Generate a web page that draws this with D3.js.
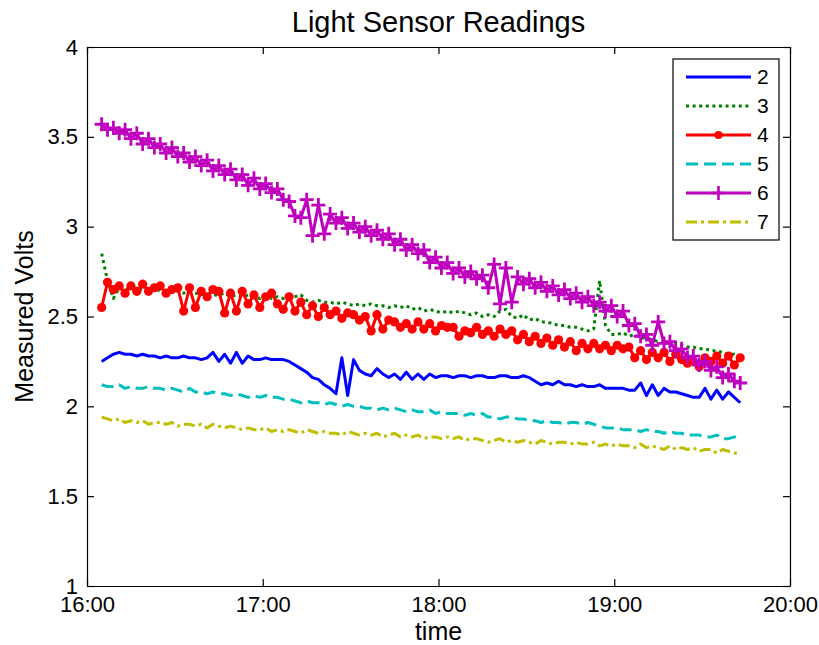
<!DOCTYPE html>
<html>
<head>
<meta charset="utf-8">
<script src="https://cdn.jsdelivr.net/npm/d3@7"></script>
<style>
  body { margin: 0; background: #fff; }
  text { font-family: "Liberation Sans", Arial, Helvetica, sans-serif; }
</style>
</head>
<body>
<div id="main"></div>
<script>
// sample times, minutes after 16:00
const minutes = [
  5, 7, 9, 11, 13, 15, 17, 19, 21, 23,
  25, 27, 29, 31, 33, 35, 37, 39, 41, 43,
  45, 47, 49, 51, 53, 55, 57, 59, 61, 63,
  65, 67, 69, 71, 73, 75, 77, 79, 81, 83,
  85, 87, 89, 91, 93, 95, 97, 99, 101, 103,
  105, 107, 109, 111, 113, 115, 117, 119, 121, 123,
  125, 127, 129, 131, 133, 135, 137, 139, 141, 143,
  145, 147, 149, 151, 153, 155, 157, 159, 161, 163,
  165, 167, 169, 171, 173, 175, 177, 179, 181, 183,
  185, 187, 189, 191, 193, 195, 197, 199, 201, 203,
  205, 207, 209, 211, 213, 215, 217, 219, 221, 223
];

const sensor2 = [
  2.25, 2.27, 2.29, 2.30, 2.29, 2.29, 2.28, 2.29, 2.28, 2.28,
  2.27, 2.28, 2.27, 2.27, 2.28, 2.27, 2.27, 2.26, 2.27, 2.30,
  2.25, 2.29, 2.24, 2.30, 2.24, 2.28, 2.26, 2.26, 2.27, 2.26,
  2.26, 2.26, 2.25, 2.23, 2.21, 2.19, 2.16, 2.15, 2.12, 2.10,
  2.07, 2.27, 2.06, 2.26, 2.20, 2.18, 2.17, 2.21, 2.18, 2.16,
  2.18, 2.15, 2.19, 2.15, 2.18, 2.15, 2.18, 2.16, 2.17, 2.17,
  2.16, 2.17, 2.17, 2.16, 2.17, 2.17, 2.16, 2.16, 2.17, 2.17,
  2.16, 2.16, 2.17, 2.16, 2.14, 2.12, 2.13, 2.12, 2.14, 2.12,
  2.12, 2.11, 2.12, 2.11, 2.11, 2.12, 2.10, 2.10, 2.10, 2.10,
  2.09, 2.09, 2.13, 2.06, 2.12, 2.06, 2.10, 2.08, 2.08, 2.07,
  2.06, 2.05, 2.05, 2.10, 2.04, 2.09, 2.04, 2.08, 2.05, 2.02
];

const sensor3 = [
  2.85, 2.70, 2.60, 2.66, 2.65, 2.66, 2.65, 2.65, 2.66, 2.64,
  2.65, 2.64, 2.65, 2.64, 2.63, 2.64, 2.63, 2.62, 2.63, 2.62,
  2.62, 2.63, 2.61, 2.62, 2.61, 2.62, 2.61, 2.60, 2.62, 2.60,
  2.61, 2.60, 2.60, 2.61, 2.62, 2.59, 2.58, 2.59, 2.58, 2.58,
  2.57, 2.58, 2.57, 2.56, 2.57, 2.56, 2.57, 2.56, 2.56, 2.55,
  2.56, 2.55, 2.56, 2.54, 2.55, 2.53, 2.54, 2.53, 2.52, 2.53,
  2.52, 2.53, 2.52, 2.51, 2.52, 2.50, 2.51, 2.50, 2.53, 2.54,
  2.50, 2.49, 2.51, 2.48, 2.49, 2.47, 2.47, 2.46, 2.45, 2.45,
  2.44, 2.44, 2.43, 2.42, 2.43, 2.70, 2.45, 2.40, 2.40, 2.41,
  2.39, 2.40, 2.38, 2.38, 2.37, 2.36, 2.36, 2.35, 2.35, 2.34,
  2.33, 2.33, 2.32, 2.32, 2.31, 2.31, 2.30, 2.29, 2.29, 2.28
];

const sensor4 = [
  2.55, 2.69, 2.65, 2.67, 2.63, 2.67, 2.64, 2.68, 2.64, 2.66,
  2.67, 2.63, 2.65, 2.66, 2.53, 2.66, 2.55, 2.64, 2.61, 2.65,
  2.64, 2.52, 2.63, 2.53, 2.64, 2.57, 2.62, 2.55, 2.61, 2.63,
  2.57, 2.54, 2.61, 2.53, 2.58, 2.51, 2.56, 2.50, 2.55, 2.51,
  2.53, 2.49, 2.52, 2.51, 2.48, 2.50, 2.42, 2.51, 2.43, 2.48,
  2.47, 2.44, 2.46, 2.43, 2.47, 2.43, 2.46, 2.42, 2.45, 2.44,
  2.44, 2.39, 2.42, 2.41, 2.44, 2.40, 2.42, 2.39, 2.43, 2.40,
  2.42, 2.37, 2.40, 2.36, 2.39, 2.35, 2.38, 2.34, 2.37, 2.33,
  2.36, 2.31, 2.35, 2.32, 2.35, 2.32, 2.34, 2.31, 2.34, 2.32,
  2.33, 2.27, 2.31, 2.26, 2.30, 2.27, 2.30, 2.25, 2.29, 2.26,
  2.24, 2.25, 2.22, 2.27, 2.25, 2.28, 2.24, 2.28, 2.23, 2.27
];

const sensor5 = [
  2.12, 2.11, 2.11, 2.12, 2.10, 2.11, 2.10, 2.10, 2.11, 2.10,
  2.10, 2.09, 2.10, 2.09, 2.08, 2.10, 2.08, 2.08, 2.07, 2.08,
  2.07, 2.07, 2.06, 2.07, 2.06, 2.05, 2.06, 2.05, 2.06, 2.05,
  2.05, 2.04, 2.04, 2.03, 2.02, 2.03, 2.02, 2.02, 2.01, 2.02,
  2.01, 2.00, 2.01, 2.00, 2.00, 1.99, 1.99, 1.98, 1.99, 1.98,
  1.99, 1.98, 1.97, 1.98, 1.97, 1.97, 1.98, 1.96, 1.97, 1.96,
  1.96, 1.96, 1.95, 1.96, 1.95, 1.96, 1.94, 1.94, 1.93, 1.94,
  1.94, 1.93, 1.93, 1.92, 1.92, 1.91, 1.92, 1.91, 1.91, 1.90,
  1.91, 1.91, 1.90, 1.91, 1.90, 1.89, 1.88, 1.88, 1.88, 1.87,
  1.87, 1.87, 1.86, 1.87, 1.86, 1.86, 1.85, 1.86, 1.85, 1.85,
  1.84, 1.84, 1.84, 1.83, 1.83, 1.84, 1.82, 1.82, 1.83, 1.81
];

const sensor6 = [
  3.57, 3.54, 3.55, 3.52, 3.54, 3.49, 3.52, 3.46, 3.49, 3.44,
  3.46, 3.41, 3.44, 3.39, 3.41, 3.36, 3.39, 3.34, 3.37, 3.31,
  3.34, 3.29, 3.32, 3.26, 3.29, 3.23, 3.27, 3.21, 3.24, 3.19,
  3.21, 3.15, 3.14, 3.06, 3.05, 3.15, 2.95, 3.12, 2.96, 3.07,
  3.02, 3.05, 2.99, 3.02, 2.97, 3.00, 2.95, 2.98, 2.93, 2.96,
  2.90, 2.93, 2.87, 2.90, 2.85, 2.87, 2.80, 2.83, 2.77, 2.80,
  2.74, 2.77, 2.72, 2.75, 2.71, 2.73, 2.66, 2.79, 2.57, 2.77,
  2.58, 2.72, 2.68, 2.71, 2.66, 2.69, 2.64, 2.67, 2.62, 2.65,
  2.60, 2.63, 2.58, 2.61, 2.56, 2.58, 2.53, 2.56, 2.50, 2.53,
  2.45, 2.46, 2.39, 2.40, 2.34, 2.47, 2.35, 2.36, 2.31, 2.32,
  2.27, 2.28, 2.23, 2.25, 2.20, 2.22, 2.16, 2.18, 2.14, 2.13
];

const sensor7 = [
  1.94, 1.93, 1.92, 1.93, 1.91, 1.92, 1.91, 1.92, 1.90, 1.91,
  1.91, 1.90, 1.91, 1.89, 1.90, 1.90, 1.89, 1.90, 1.88, 1.90,
  1.89, 1.88, 1.89, 1.88, 1.87, 1.88, 1.87, 1.87, 1.88, 1.86,
  1.87, 1.86, 1.87, 1.86, 1.85, 1.87, 1.86, 1.85, 1.86, 1.85,
  1.85, 1.84, 1.86, 1.85, 1.84, 1.85, 1.84, 1.85, 1.83, 1.84,
  1.85, 1.83, 1.84, 1.83, 1.84, 1.82, 1.83, 1.83, 1.82, 1.83,
  1.82, 1.83, 1.81, 1.82, 1.82, 1.81, 1.80, 1.81, 1.82, 1.80,
  1.81, 1.80, 1.81, 1.80, 1.79, 1.81, 1.80, 1.79, 1.80, 1.80,
  1.79, 1.80, 1.79, 1.79, 1.80, 1.78, 1.79, 1.78, 1.79, 1.78,
  1.78, 1.77, 1.79, 1.77, 1.78, 1.77, 1.76, 1.78, 1.76, 1.77,
  1.76, 1.77, 1.75, 1.76, 1.76, 1.74, 1.76, 1.75, 1.74, 1.74
];

const seriesNames = ['2', '3', '4', '5', '6', '7'];
const seriesValues = [sensor2, sensor3, sensor4, sensor5, sensor6, sensor7];
const yTicks = [1, 1.5, 2, 2.5, 3, 3.5, 4];

// matlab-ish line styles, same order as seriesNames
const styles = [
  { color: '#0000ff', dash: null, marker: null },
  { color: '#008000', dash: '3,3.6', marker: null },
  { color: '#ff0000', dash: null, marker: 'circle' },
  { color: '#00bfbf', dash: '12,6', marker: null },
  { color: '#bf00bf', dash: null, marker: 'plus' },
  { color: '#bfbf00', dash: '11,4,3,4', marker: null }
];

const svgWidth = 819, svgHeight = 645;
const margin = { top: 47, right: 29, bottom: 59, left: 87 };
const chartWidth = svgWidth - margin.left - margin.right;
const chartHeight = svgHeight - margin.top - margin.bottom;

const start = new Date(2000, 0, 1, 16, 0);
const toDate = m => new Date(start.getTime() + m * 60000);
const dates = minutes.map(toDate);

const svg = d3.select('#main')
  .append('svg')
  .attr('width', svgWidth)
  .attr('height', svgHeight);

const g = svg.append('g')
  .attr('transform', `translate(${margin.left}, ${margin.top})`);

const xScale = d3.scaleTime()
  .domain([start, toDate(240)])
  .range([0, chartWidth]);

const yScale = d3.scaleLinear()
  .domain([1, 4])
  .range([chartHeight, 0]);

const hourTicks = d3.timeHour.range(start, toDate(241));
const tickLen = -7;

function styleAxis(sel) {
  sel.select('.domain').attr('stroke', '#000').attr('stroke-width', 1.2);
  sel.selectAll('.tick line').attr('stroke', '#000').attr('stroke-width', 1.2);
  sel.selectAll('.tick text')
    .attr('fill', '#000')
    .style('font-size', '22px')
    .style('font-family', '"Liberation Sans", Arial, sans-serif');
}

g.append('g')
  .attr('transform', `translate(0, ${chartHeight})`)
  .call(d3.axisBottom(xScale).tickValues(hourTicks).tickFormat(d3.timeFormat('%H:%M'))
    .tickSizeInner(tickLen).tickSizeOuter(0).tickPadding(10))
  .call(styleAxis);

g.append('g')
  .call(d3.axisTop(xScale).tickValues(hourTicks).tickFormat('')
    .tickSizeInner(tickLen).tickSizeOuter(0))
  .call(styleAxis);

g.append('g')
  .call(d3.axisLeft(yScale).tickValues(yTicks).tickFormat(d3.format('~g'))
    .tickSizeInner(tickLen).tickSizeOuter(0).tickPadding(9))
  .call(styleAxis);

g.append('g')
  .attr('transform', `translate(${chartWidth}, 0)`)
  .call(d3.axisRight(yScale).tickValues(yTicks).tickFormat('')
    .tickSizeInner(tickLen).tickSizeOuter(0))
  .call(styleAxis);

// series
const line = d3.line()
  .x((d, i) => xScale(dates[i]))
  .y(d => yScale(d));

seriesValues.forEach((values, s) => {
  const st = styles[s];
  g.append('path')
    .datum(values)
    .attr('fill', 'none')
    .attr('stroke', st.color)
    .attr('stroke-width', 3)
    .attr('stroke-linejoin', 'round')
    .attr('stroke-dasharray', st.dash)
    .attr('d', line);

  if (st.marker === 'circle') {
    g.append('g').selectAll('circle')
      .data(values)
      .join('circle')
      .attr('cx', (d, i) => xScale(dates[i]))
      .attr('cy', d => yScale(d))
      .attr('r', 4.6)
      .attr('fill', st.color);
  } else if (st.marker === 'plus') {
    g.append('g').selectAll('path')
      .data(values)
      .join('path')
      .attr('transform', (d, i) => `translate(${xScale(dates[i])}, ${yScale(d)})`)
      .attr('d', 'M-7,0H7M0,-7V7')
      .attr('stroke', st.color)
      .attr('stroke-width', 2.8)
      .attr('fill', 'none');
  }
});

// legend
const legend = svg.append('g').attr('transform', 'translate(673, 59)');
legend.append('rect')
  .attr('width', 106)
  .attr('height', 181)
  .attr('fill', '#fff')
  .attr('stroke', '#000')
  .attr('stroke-width', 1.2);

seriesNames.forEach((name, i) => {
  const st = styles[i];
  const y = 18 + i * 29;
  const row = legend.append('g').attr('transform', `translate(0, ${y})`);
  row.append('line')
    .attr('x1', 13).attr('x2', 78)
    .attr('stroke', st.color)
    .attr('stroke-width', 2.8)
    .attr('stroke-dasharray', st.dash);
  if (st.marker === 'circle') {
    row.append('circle').attr('cx', 45.5).attr('r', 4).attr('fill', st.color);
  } else if (st.marker === 'plus') {
    row.append('path').attr('d', 'M39.5,0H51.5M45.5,-7V7')
      .attr('stroke', st.color).attr('stroke-width', 2.6);
  }
  row.append('text')
    .attr('x', 84)
    .attr('y', 7)
    .style('font-size', '21px')
    .text(name);
});

// titles
svg.append('text')
  .attr('x', margin.left + chartWidth / 2)
  .attr('y', 32)
  .attr('text-anchor', 'middle')
  .style('font-size', '29px')
  .text('Light Sensor Readings');

svg.append('text')
  .attr('x', margin.left + chartWidth / 2)
  .attr('y', 640)
  .attr('text-anchor', 'middle')
  .style('font-size', '25px')
  .text('time');

svg.append('text')
  .attr('transform', `translate(33, ${margin.top + chartHeight / 2}) rotate(-90)`)
  .attr('text-anchor', 'middle')
  .style('font-size', '25px')
  .text('Measured Volts');
</script>
</body>
</html>
